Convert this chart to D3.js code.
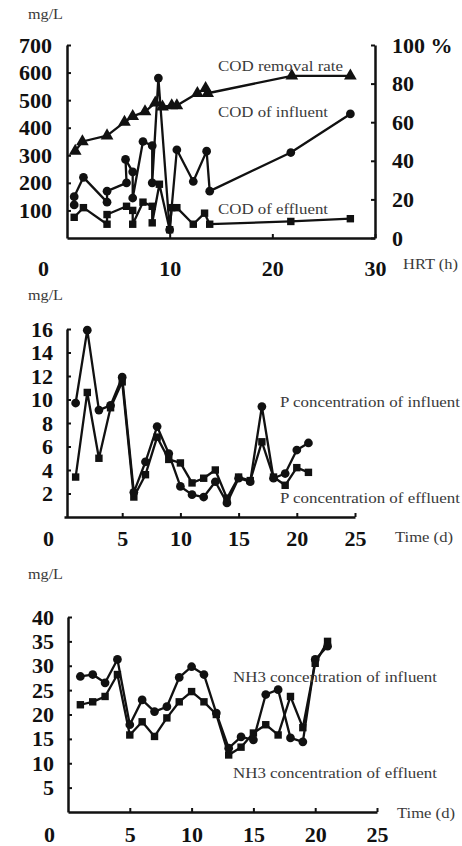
<!DOCTYPE html>
<html><head><meta charset="utf-8">
<script src="https://cdn.jsdelivr.net/npm/d3@7"></script>
<style>
html,body{margin:0;padding:0;background:#fff;}
svg{display:block;}
.tick text{font-family:"Liberation Serif","Times New Roman",serif;font-weight:bold;font-size:22px;fill:#111;}
.lbl{font-family:"Liberation Serif","Times New Roman",serif;font-size:14px;fill:#3a3a3a;}
</style></head><body>
<svg id="chart" width="462" height="846"></svg>
<script>
// ---- COD vs hydraulic retention time ----
const codRemovalHrt = [0.8, 1.5, 3.9, 5.6, 6.4, 7.6, 8.6, 9.3, 10.2, 10.7, 12.7, 13.5, 13.7, 21.9, 27.6];
const codRemovalPct = [45, 50, 53, 60, 63, 65.5, 70, 68, 68.6, 68.6, 75, 77.5, 75, 84, 84];
const codInfHrt = [0.7, 0.7, 1.6, 3.9, 3.9, 5.8, 5.7, 6.4, 6.4, 7.4, 8.3, 8.3, 8.9, 10.0, 10.7, 12.3, 13.6, 13.9, 21.8, 27.6];
const codInfVal = [120, 150, 220, 130, 170, 200, 285, 240, 145, 350, 335, 200, 580, 30, 320, 205, 315, 170, 310, 450];
const codEffHrt = [0.7, 1.6, 3.9, 3.9, 5.8, 6.4, 6.4, 7.4, 8.3, 8.3, 9.0, 10.0, 10.2, 10.7, 12.3, 13.4, 13.9, 21.8, 27.6];
const codEffVal = [75, 110, 50, 85, 115, 100, 50, 130, 115, 55, 195, 30, 110, 110, 50, 90, 50, 60, 70];
const codTicksLeft = [100, 200, 300, 400, 500, 600, 700];
const codTicksRight = [0, 20, 40, 60, 80, 100];
const hrtTicks = [0, 10, 20, 30];

// ---- phosphorus over time ----
const pDays = [1, 2, 3, 4, 5, 6, 7, 8, 9, 10, 11, 12, 13, 14, 15, 16, 17, 18, 19, 20, 21];
const pInfluent = [9.7, 15.9, 9.1, 9.5, 11.9, 2.1, 4.7, 7.7, 5.4, 2.6, 1.9, 1.7, 3.0, 1.2, 3.3, 3.0, 9.4, 3.3, 3.7, 5.7, 6.3];
const pEffluent = [3.4, 10.6, 5.0, 9.3, 11.5, 1.7, 3.6, 6.8, 4.9, 4.6, 2.9, 3.3, 4.0, 1.6, 3.4, 3.1, 6.4, 3.4, 2.7, 4.2, 3.8];
const pTicks = [2, 4, 6, 8, 10, 12, 14, 16];
const dayTicks = [0, 5, 10, 15, 20, 25];

// ---- ammonia over time ----
const nDays = [1, 2, 3, 4, 5, 6, 7, 8, 9, 10, 11, 12, 13, 14, 15, 16, 17, 18, 19, 20, 21];
const nInfluent = [27.8, 28.2, 26.5, 31.3, 17.9, 23.0, 20.6, 21.6, 27.6, 29.8, 28.2, 20.3, 13.1, 15.4, 14.8, 24.1, 25.1, 15.2, 14.4, 31.3, 34.0];
const nEffluent = [22.0, 22.6, 23.7, 28.2, 15.8, 18.5, 15.5, 19.3, 22.6, 24.7, 22.6, 20.0, 11.7, 13.3, 16.2, 17.9, 15.8, 23.7, 17.3, 30.5, 35.0];
const nTicks = [5, 10, 15, 20, 25, 30, 35, 40];

const svg = d3.select('#chart');
const INK = '#111';

function styleAxis(g) {
  g.select('.domain').attr('stroke', INK).attr('stroke-width', 2.5);
  g.selectAll('.tick line').attr('stroke', INK).attr('stroke-width', 2);
  g.attr('font-family', null).attr('font-size', null);
}

function text(x, y, s, len) {
  const t = svg.append('text').attr('class', 'lbl').attr('x', x).attr('y', y).text(s);
  if (len) t.attr('textLength', len).attr('lengthAdjust', 'spacingAndGlyphs');
  return t;
}

function series(xs, ys, x, y, shape, size) {
  const pts = xs.map((d, i) => [d, ys[i]]);
  const line = d3.line().x(d => x(d[0])).y(d => y(d[1]));
  svg.append('path').attr('d', line(pts)).attr('fill', 'none')
    .attr('stroke', INK).attr('stroke-width', 2.3).attr('stroke-linejoin', 'round');
  const sym = d3.symbol().type(shape).size(size);
  svg.append('g').selectAll('path').data(pts).join('path')
    .attr('d', sym).attr('fill', INK)
    .attr('transform', d => `translate(${x(d[0])},${y(d[1])})`);
}

function bottomAxis(x, yPos, ticks, pad, zeroShift) {
  const g = svg.append('g').attr('transform', `translate(0,${yPos})`)
    .call(d3.axisBottom(x).tickValues(ticks).tickSize(-4).tickSizeOuter(0).tickPadding(pad));
  styleAxis(g);
  g.selectAll('.tick').filter(d => d === 0).select('text').attr('dx', zeroShift);
  g.selectAll('.tick').filter(d => d === 0).select('line').remove();
  return g;
}

function leftAxis(y, xPos, ticks, pad) {
  const g = svg.append('g').attr('transform', `translate(${xPos},0)`)
    .call(d3.axisLeft(y).tickValues(ticks).tickSize(-4).tickSizeOuter(0).tickPadding(pad));
  styleAxis(g);
  return g;
}

// Panel 1: COD
{
  const x = d3.scaleLinear().domain([0, 30]).range([67, 375]);
  const y = d3.scaleLinear().domain([0, 700]).range([238, 45]);
  const yr = d3.scaleLinear().domain([0, 100]).range([238, 45]);
  leftAxis(y, 67, codTicksLeft, 15);
  const gr = svg.append('g').attr('transform', 'translate(375,0)')
    .call(d3.axisRight(yr).tickValues(codTicksRight).tickSize(-4).tickSizeOuter(0).tickPadding(17)
      .tickFormat(d => d === 100 ? '100 %' : d));
  styleAxis(gr);
  bottomAxis(x, 238, hrtTicks, 22, -24);
  text(28, 19, 'mg/L', 35);
  text(403, 269, 'HRT (h)', 55);
  series(codEffHrt, codEffVal, x, y, d3.symbolSquare, 55);
  series(codInfHrt, codInfVal, x, y, d3.symbolCircle, 60);
  series(codRemovalHrt, codRemovalPct, x, yr, d3.symbolTriangle, 70);
  text(218, 71, 'COD removal rate', 125);
  text(218, 117, 'COD of influent', 110);
  text(218, 214, 'COD of effluent', 110);
}

// Panel 2: phosphorus
{
  const x = d3.scaleLinear().domain([0, 25]).range([64, 355]);
  const y = d3.scaleLinear().domain([0, 16]).range([517, 329]);
  leftAxis(y, 67, pTicks, 14);
  bottomAxis(x, 517, dayTicks, 13, -16);
  text(28, 300, 'mg/L', 35);
  text(395, 542, 'Time (d)', 58);
  series(pDays, pEffluent, x, y, d3.symbolSquare, 55);
  series(pDays, pInfluent, x, y, d3.symbolCircle, 60);
  text(280, 407, 'P concentration of influent', 180);
  text(280, 503, 'P concentration of effluent', 180);
}

// Panel 3: ammonia
{
  const x = d3.scaleLinear().domain([0, 25]).range([68, 377]);
  const y = d3.scaleLinear().domain([0, 40]).range([812, 617]);
  leftAxis(y, 68, nTicks, 14);
  bottomAxis(x, 812, dayTicks, 14, -19);
  text(28, 579, 'mg/L', 35);
  text(397, 818, 'Time (d)', 58);
  series(nDays, nEffluent, x, y, d3.symbolSquare, 55);
  series(nDays, nInfluent, x, y, d3.symbolCircle, 60);
  text(233, 682, 'NH3 concentration of influent', 204);
  text(233, 778, 'NH3 concentration of effluent', 204);
}
</script>
</body></html>
